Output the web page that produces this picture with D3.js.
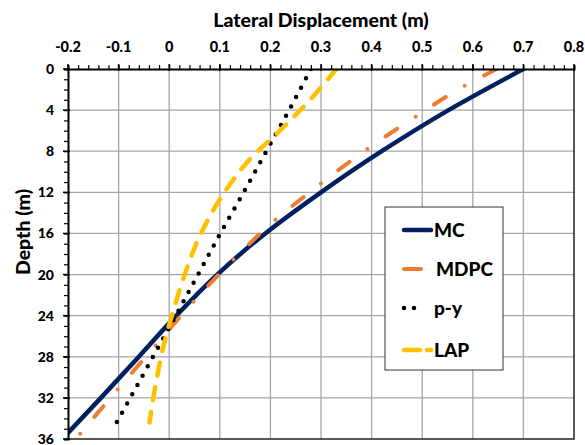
<!DOCTYPE html>
<html>
<head>
<meta charset="utf-8">
<script src="https://cdn.jsdelivr.net/npm/d3@7"></script>
<style>
  body { margin: 0; background: #fff; }
  text { font-family: Lato, "Liberation Sans", sans-serif; font-weight: 900; fill: #000; }
</style>
</head>
<body>
<div id="chart"></div>
<script>
// x ticks (top axis) and depth ticks
const xTicks = [-0.2, -0.1, 0, 0.1, 0.2, 0.3, 0.4, 0.5, 0.6, 0.7, 0.8];
const xTickLabels = ["-0.2", "-0.1", "0", "0.1", "0.2", "0.3", "0.4", "0.5", "0.6", "0.7", "0.8"];
const depthTicks = [0, 4, 8, 12, 16, 20, 24, 28, 32, 36];

// series: depth (m) and lateral displacement (m)
const mcDepth = [0, 4, 8, 12, 16, 20, 24, 28, 32, 35.4];
const mcDisp  = [0.70, 0.552, 0.42, 0.30, 0.19, 0.095, 0.014, -0.060, -0.135, -0.2];

const mdpcDepth = [0, 1.8, 4.8, 7.9, 11.3, 14.8, 18.7, 22.8, 27, 31.3, 35.6];
const mdpcDisp  = [0.647, 0.578, 0.482, 0.388, 0.296, 0.207, 0.124, 0.045, -0.029, -0.104, -0.178];

const pyDepth = [0, 4, 8, 12, 16, 20, 24, 28, 32, 35.2];
const pyDisp  = [0.28, 0.237, 0.192, 0.147, 0.101, 0.057, 0.013, -0.032, -0.077, -0.113];

const lapDepth = [0, 2.7, 5.7, 8.8, 12.7, 16.3, 20.1, 23.7, 27.3, 30.5, 34.4];
const lapDisp  = [0.33, 0.284, 0.225, 0.159, 0.10, 0.06, 0.03, 0.007, -0.013, -0.026, -0.039];

const seriesNames = ["MC", "MDPC", "p-y", "LAP"];

const W = 585, H = 445;
const m = { left: 68, right: 11, top: 69, bottom: 6 };

const svg = d3.select("#chart").append("svg")
  .attr("width", W).attr("height", H);

const x = d3.scaleLinear().domain([-0.2, 0.8]).range([m.left, W - m.right]);
const y = d3.scaleLinear().domain([0, 36]).range([m.top, H - m.bottom]);

// grid
svg.append("g").selectAll("line").data(xTicks.slice(1, -1)).join("line")
  .attr("x1", d => x(d)).attr("x2", d => x(d))
  .attr("y1", y(0)).attr("y2", y(36))
  .attr("stroke", "#a6a6a6").attr("stroke-width", 1.3);
svg.append("g").selectAll("line").data(depthTicks.slice(1, -1)).join("line")
  .attr("x1", x(-0.2)).attr("x2", x(0.8))
  .attr("y1", d => y(d)).attr("y2", d => y(d))
  .attr("stroke", "#a6a6a6").attr("stroke-width", 1.3);

// frame (right + bottom)
svg.append("path")
  .attr("d", `M${x(0.8)},${y(0)}V${y(36)}H${x(-0.2)}`)
  .attr("fill", "none").attr("stroke", "#222").attr("stroke-width", 1.5);

// clip
svg.append("clipPath").attr("id", "clip").append("rect")
  .attr("x", x(-0.2)).attr("y", y(0))
  .attr("width", x(0.8) - x(-0.2)).attr("height", y(36) - y(0));

const line = d3.line().x(d => x(d[1])).y(d => y(d[0])).curve(d3.curveMonotoneY);
const zip = (a, b) => a.map((d, i) => [d, b[i]]);

const styles = [
  { color: "#002060", width: 4.5, dash: null },
  { color: "#ED7D31", width: 4, dash: "14,22,0,22" },
  { color: "#000000", width: 4.5, dash: "0,10.6" },
  { color: "#FFC000", width: 4.5, dash: "13,12" }
];
const seriesData = [
  zip(mcDepth, mcDisp),
  zip(mdpcDepth, mdpcDisp),
  zip(pyDepth, pyDisp),
  zip(lapDepth, lapDisp)
];

const plot = svg.append("g").attr("clip-path", "url(#clip)");
seriesData.forEach((s, i) => {
  plot.append("path").datum(s)
    .attr("d", line)
    .attr("fill", "none")
    .attr("stroke", styles[i].color)
    .attr("stroke-width", styles[i].width)
    .attr("stroke-linecap", "round")
    .attr("stroke-dasharray", styles[i].dash);
});

// top axis
const xAxis = d3.axisTop(x)
  .tickValues(d3.range(-0.2, 0.8001, 0.02))
  .tickSize(4).tickFormat("");
const gx = svg.append("g").attr("transform", `translate(0,${y(0)})`).call(xAxis);
gx.select(".domain").attr("stroke-width", 2);
gx.selectAll(".tick line").attr("stroke-width", 1.2);
svg.append("g").selectAll("line").data(xTicks).join("line")
  .attr("x1", d => x(d)).attr("x2", d => x(d))
  .attr("y1", y(0) - 5).attr("y2", y(0) + 2)
  .attr("stroke", "#000").attr("stroke-width", 1.5);
svg.append("g").selectAll("text").data(xTicks).join("text")
  .attr("x", d => x(d)).attr("y", 52)
  .attr("text-anchor", "middle")
  .style("font-size", "14.5px")
  .text((d, i) => xTickLabels[i]);

// left axis
const yAxis = d3.axisLeft(y)
  .tickValues(d3.range(0, 36.01, 1))
  .tickSize(4).tickFormat("");
const gy = svg.append("g").attr("transform", `translate(${x(-0.2)},0)`).call(yAxis);
gy.select(".domain").attr("stroke-width", 2);
gy.selectAll(".tick line").attr("stroke-width", 1.2);
svg.append("g").selectAll("line").data(depthTicks).join("line")
  .attr("x1", x(-0.2) - 5).attr("x2", x(-0.2) + 2)
  .attr("y1", d => y(d)).attr("y2", d => y(d))
  .attr("stroke", "#000").attr("stroke-width", 1.5);
svg.append("g").selectAll("text").data(depthTicks).join("text")
  .attr("x", 54).attr("y", d => y(d) + 5)
  .attr("text-anchor", "end")
  .style("font-size", "14px")
  .text(d => d);

// titles
svg.append("text")
  .attr("x", 321).attr("y", 27)
  .attr("text-anchor", "middle")
  .style("font-size", "19.5px")
  .text("Lateral Displacement (m)");
svg.append("text")
  .attr("transform", "translate(30,232) rotate(-90)")
  .attr("text-anchor", "middle")
  .style("font-size", "19.5px")
  .text("Depth (m)");

// legend
const lg = svg.append("g");
lg.append("rect")
  .attr("x", 385).attr("y", 207).attr("width", 118).attr("height", 163)
  .attr("fill", "#fff").attr("stroke", "#333").attr("stroke-width", 1);
const legY = [230, 269, 308, 350];
const legDash = [null, null, "0,10", "16,7"];
const legEnd = [431, 421, 423, 431];
seriesNames.forEach((name, i) => {
  lg.append("line")
    .attr("x1", 404).attr("x2", legEnd[i])
    .attr("y1", legY[i]).attr("y2", legY[i])
    .attr("stroke", styles[i].color)
    .attr("stroke-width", styles[i].width)
    .attr("stroke-linecap", "round")
    .attr("stroke-dasharray", legDash[i]);
  lg.append("text")
    .attr("x", i === 1 ? 436 : 434).attr("y", legY[i] + 7)
    .style("font-size", "19px")
    .text(name);
});
</script>
</body>
</html>
